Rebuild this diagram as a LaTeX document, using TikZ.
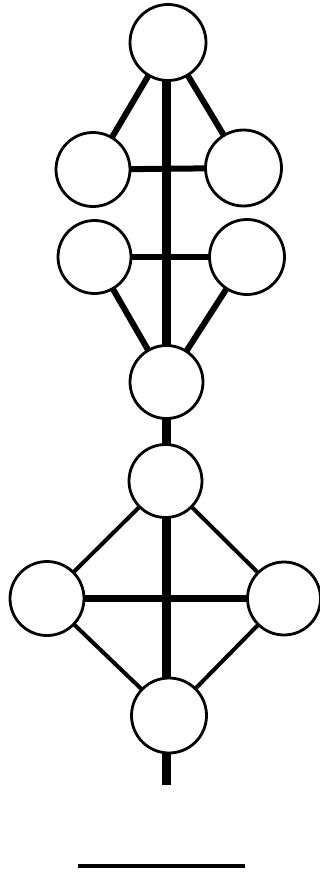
\documentclass[tikz,border=0pt]{standalone}
\usetikzlibrary{backgrounds}
\begin{document}
\begin{tikzpicture}[x=1pt,y=-1pt,
  sph/.style={circle,draw=black,fill=white,line width=2.8pt,minimum size=73pt,inner sep=0pt},
  trunk/.style={line width=9pt},
  thickpath/.style={line width=6pt},
  thinpath/.style={line width=4pt},
  crossbar/.style={line width=7.5pt},
  bar/.style={line width=4pt}]
\useasboundingbox (0,0) rectangle (320,875);
% circles
\node[sph,minimum size=76pt] (c1) at (168,42.5) {};
\node[sph,minimum size=74pt] (c2) at (93,169.5) {};
\node[sph,minimum size=76pt] (c3) at (243.5,168) {};
\node[sph] (c4) at (94.5,257) {};
\node[sph,minimum size=75pt] (c5) at (247,257) {};
\node[sph] (c6) at (166.5,382) {};
\node[sph] (c7) at (165.5,481) {};
\node[sph,minimum size=74pt] (c8) at (47,598.5) {};
\node[sph] (c9) at (284,598.5) {};
\node[sph,minimum size=75pt] (c10) at (169,715.5) {};
\coordinate (tail) at (166,785);
\coordinate (barL) at (78,866);
\coordinate (barR) at (245,866);
\begin{pgfonlayer}{background}
% trunk
\draw[trunk] (c1.center -| tail) -- (tail);
% upper connections
\draw[thickpath] (c1.center) -- (c2.center);
\draw[thickpath] (c1.center) -- (c3.center);
\draw[thickpath] (c2.center) -- (c3.center);
\draw[thickpath] (c4.center) -- (c5.center);
\draw[thickpath] (c4.center) -- (c6.center);
\draw[thickpath] (c5.center) -- (c6.center);
% lower connections
\draw[thinpath] (c7.center) -- (c8.center);
\draw[thinpath] (c7.center) -- (c9.center);
\draw[thinpath] (c8.center) -- (c10.center);
\draw[thinpath] (c9.center) -- (c10.center);
\draw[crossbar] (c8.center) -- (c9.center);
\end{pgfonlayer}
% bar
\draw[bar] (barL) -- (barR);
\end{tikzpicture}
\end{document}
